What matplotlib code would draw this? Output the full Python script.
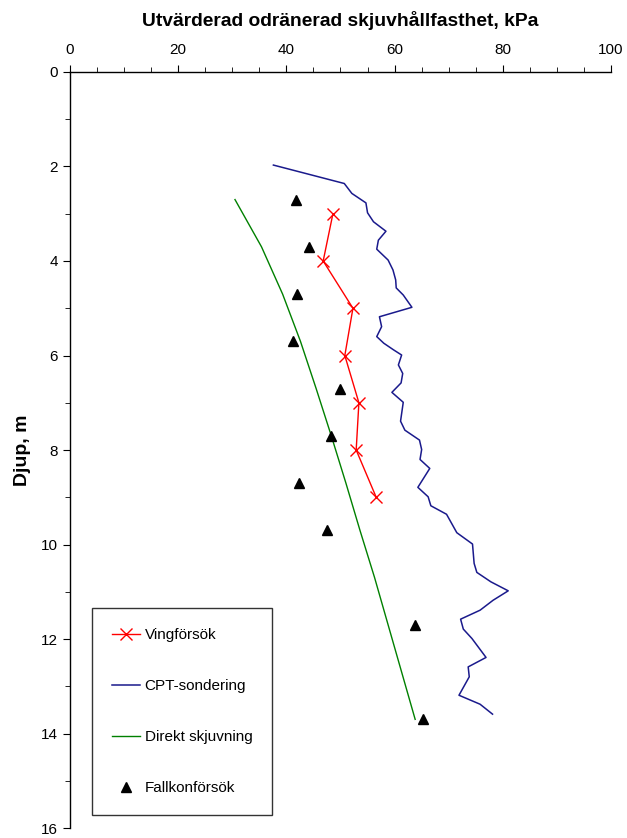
import matplotlib
matplotlib.use("Agg")
import matplotlib.pyplot as plt
from matplotlib.ticker import MultipleLocator

plt.rcParams['font.family'] = ['Liberation Sans', 'DejaVu Sans']

# Vingförsök
ving_depth = [3.0, 4.0, 5.0, 6.0, 7.0, 8.0, 9.0]
ving_cu = [48.6, 46.8, 52.3, 50.8, 53.4, 52.9, 56.6]

# CPT-sondering
cpt_depth = [1.97, 2.36, 2.57, 2.77, 2.98, 3.17, 3.37, 3.56, 3.75, 3.98,
             4.19, 4.40, 4.57, 4.72, 4.98, 5.18, 5.39, 5.60, 5.74, 5.88,
             5.99, 6.20, 6.38, 6.58, 6.78, 6.99, 7.39, 7.58, 7.79, 7.99,
             8.20, 8.39, 8.79, 8.99, 9.18, 9.36, 9.75, 9.99, 10.40, 10.59,
             10.79, 10.98, 11.18, 11.39, 11.58, 11.79, 11.99, 12.39, 12.59,
             12.80, 13.19, 13.38, 13.59]
cpt_cu = [37.6, 50.7, 52.1, 54.7, 55.0, 56.1, 58.4, 57.0, 56.7, 58.8,
          59.7, 60.2, 60.3, 61.6, 63.2, 57.2, 57.6, 56.7, 58.0, 59.8,
          61.3, 60.7, 61.5, 61.2, 59.5, 61.6, 61.1, 61.9, 64.6, 65.0,
          64.7, 66.5, 64.3, 66.2, 66.7, 69.6, 71.5, 74.4, 74.7, 75.2,
          77.8, 81.0, 78.2, 75.8, 72.2, 72.7, 74.3, 76.9, 73.6,
          73.8, 71.9, 75.8, 78.1]

# Direkt skjuvning
ds_depth = [2.7, 3.7, 4.7, 5.7, 6.7, 7.7, 8.7, 9.7, 10.7, 11.7, 12.7, 13.7]
ds_cu = [30.5, 35.4, 39.3, 42.6, 45.5, 48.3, 51.0, 53.6, 56.3, 58.8, 61.3, 63.8]

# Fallkonförsök
fk_depth = [2.7, 3.7, 4.7, 5.7, 6.7, 7.7, 8.7, 9.7, 11.7, 13.7]
fk_cu = [41.8, 44.2, 42.0, 41.2, 49.9, 48.2, 42.3, 47.5, 63.8, 65.2]

fig = plt.figure(figsize=(6.27, 8.38), dpi=100)
ax = fig.add_axes([0.1116, 0.0119, 0.8629, 0.9022])

ax.plot(ving_cu, ving_depth, color='#FF0000', lw=1, marker='x', ms=8,
        mew=1, label='Vingförsök')
ax.plot(cpt_cu, cpt_depth, color='#1A1A8C', lw=1.1, label='CPT-sondering')
ax.plot(ds_cu, ds_depth, color='#008000', lw=1, label='Direkt skjuvning')
ax.plot(fk_cu, fk_depth, ls='none', marker='^', color='black', ms=7,
        label='Fallkonförsök')

ax.set_xlim(0, 100)
ax.set_ylim(16, 0)
ax.xaxis.tick_top()
ax.xaxis.set_label_position('top')
ax.spines['right'].set_visible(False)
ax.spines['bottom'].set_visible(False)
for s in ['left', 'top']:
    ax.spines[s].set_linewidth(1)

ax.xaxis.set_major_locator(MultipleLocator(20))
ax.xaxis.set_minor_locator(MultipleLocator(5))
ax.yaxis.set_major_locator(MultipleLocator(2))
ax.yaxis.set_minor_locator(MultipleLocator(1))
ax.tick_params(axis='both', which='major', direction='out', length=5, labelsize=11)
ax.tick_params(axis='both', which='minor', direction='out', length=3.5)
ax.tick_params(axis='x', which='major', pad=6)

ax.set_xlabel('Utvärderad odränerad skjuvhållfasthet, kPa', fontsize=13.9,
              fontweight='bold', labelpad=12)
ax.set_ylabel('Djup, m', fontsize=14, fontweight='bold', labelpad=7)

leg = ax.legend(loc='upper left', bbox_to_anchor=(0.0407, 0.291), fontsize=11,
                frameon=True, fancybox=False, edgecolor='black',
                labelspacing=2.43, handlelength=1.85, handletextpad=0.3,
                borderpad=1.3, borderaxespad=0)
leg.get_frame().set_linewidth(1)

fig.savefig('out.png', dpi=100)
